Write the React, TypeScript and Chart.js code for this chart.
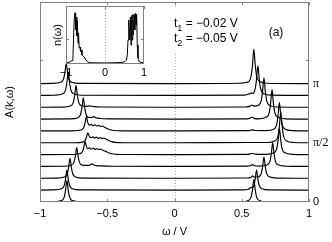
import React, { useEffect, useRef } from 'react';
import { Chart, registerables } from 'chart.js';
Chart.register(...registerables);

const SANS = '"Liberation Sans", Arial, Helvetica, sans-serif';
const SERIF = '"Liberation Serif", "Times New Roman", serif';

// axis ticks
const xTickValues = [-1, -0.5, 0, 0.5, 1];
const kTickValues = [0, 5, 10];
const kTickLabels = ['0', 'π/2', 'π'];
const frameYTicks = [12];
const yMax = 16.9;

// A(k, ω) curves, k = 0 ... π in 10 steps: [ω, A]
const curve0 = [[-1, 0.006], [-0.9, 0.022], [-0.84, 0.126], [-0.82, 0.414], [-0.81, 0.99], [-0.8, 1.8], [-0.79, 0.99], [-0.78, 0.414], [-0.76, 0.126], [-0.7, 0.022], [0, 0.004], [0.49, 0.023], [0.55, 0.133], [0.57, 0.437], [0.58, 1.045], [0.59, 1.9], [0.6, 1.045], [0.61, 0.437], [0.63, 0.133], [0.69, 0.023], [1, 0.006]];
const curve1 = [[-1, 0.006], [-0.9, 0.02], [-0.84, 0.119], [-0.82, 0.391], [-0.81, 0.935], [-0.8, 1.7], [-0.79, 0.935], [-0.78, 0.391], [-0.76, 0.119], [-0.7, 0.02], [0, 0.004], [0.51, 0.02], [0.55, 0.08], [0.57, 0.25], [0.578, 0.18], [0.59, 0.39], [0.6, 0.935], [0.61, 1.7], [0.62, 0.935], [0.63, 0.391], [0.65, 0.119], [0.71, 0.02], [1, 0.006]];
const curve2 = [[-1, 0.006], [-0.877, 0.02], [-0.817, 0.119], [-0.797, 0.391], [-0.787, 0.935], [-0.777, 1.7], [-0.767, 0.935], [-0.757, 0.391], [-0.737, 0.119], [-0.677, 0.02], [0, 0.004], [0.54, 0.03], [0.57, 0.1], [0.58, 0.21], [0.59, 0.11], [0.625, 0.126], [0.645, 0.414], [0.655, 0.99], [0.665, 1.8], [0.675, 0.99], [0.685, 0.414], [0.705, 0.126], [0.765, 0.022], [1, 0.006]];
const curve3 = [[-1, 0.006], [-0.827, 0.02], [-0.767, 0.112], [-0.747, 0.368], [-0.737, 0.88], [-0.727, 1.6], [-0.717, 0.88], [-0.707, 0.368], [-0.687, 0.112], [-0.64, 0.09], [-0.612, 0.22], [-0.595, 0.1], [-0.55, 0.05], [-0.45, 0.02], [0, 0.004], [0.54, 0.03], [0.57, 0.09], [0.58, 0.16], [0.595, 0.06], [0.63, 0.03], [0.69, 0.14], [0.71, 0.46], [0.72, 1.1], [0.73, 2.0], [0.74, 1.1], [0.75, 0.46], [0.77, 0.14], [0.83, 0.024], [1, 0.006]];
const curve4 = [[-1, 0.005], [-0.765, 0.013], [-0.705, 0.077], [-0.685, 0.25], [-0.675, 0.6], [-0.665, 1.1], [-0.655, 0.7], [-0.645, 0.5], [-0.632, 0.58], [-0.618, 0.46], [-0.604, 0.56], [-0.59, 0.44], [-0.576, 0.52], [-0.562, 0.42], [-0.548, 0.48], [-0.534, 0.38], [-0.515, 0.3], [-0.495, 0.18], [-0.47, 0.08], [-0.43, 0.03], [-0.35, 0.01], [0, 0.004], [0.55, 0.03], [0.575, 0.1], [0.6, 0.05], [0.68, 0.026], [0.74, 0.154], [0.76, 0.506], [0.77, 1.21], [0.78, 2.2], [0.79, 1.21], [0.8, 0.506], [0.82, 0.154], [0.88, 0.026], [1, 0.006]];
const curve5 = [[-1, 0.005], [-0.745, 0.01], [-0.685, 0.06], [-0.665, 0.196], [-0.655, 0.47], [-0.645, 0.85], [-0.635, 0.58], [-0.622, 0.44], [-0.608, 0.5], [-0.594, 0.4], [-0.58, 0.48], [-0.566, 0.38], [-0.552, 0.45], [-0.538, 0.36], [-0.524, 0.4], [-0.508, 0.3], [-0.49, 0.2], [-0.47, 0.1], [-0.44, 0.04], [-0.38, 0.01], [0, 0.004], [0.56, 0.03], [0.69, 0.031], [0.75, 0.182], [0.77, 0.598], [0.78, 1.43], [0.79, 2.6], [0.8, 1.43], [0.81, 0.598], [0.83, 0.182], [0.89, 0.031], [1, 0.006]];
const curve6 = [[-1, 0.005], [-0.755, 0.014], [-0.695, 0.084], [-0.675, 0.276], [-0.665, 0.66], [-0.655, 1.2], [-0.645, 0.72], [-0.633, 0.5], [-0.619, 0.56], [-0.605, 0.44], [-0.591, 0.52], [-0.577, 0.42], [-0.563, 0.48], [-0.549, 0.38], [-0.535, 0.42], [-0.518, 0.3], [-0.5, 0.2], [-0.478, 0.1], [-0.45, 0.04], [-0.39, 0.01], [0, 0.004], [0.56, 0.03], [0.575, 0.1], [0.6, 0.04], [0.68, 0.029], [0.74, 0.168], [0.76, 0.552], [0.77, 1.32], [0.78, 2.4], [0.79, 1.32], [0.8, 0.552], [0.82, 0.168], [0.88, 0.029], [1, 0.006]];
const curve7 = [[-1, 0.006], [-0.778, 0.022], [-0.718, 0.126], [-0.698, 0.414], [-0.688, 0.99], [-0.678, 1.8], [-0.668, 0.99], [-0.658, 0.414], [-0.638, 0.14], [-0.615, 0.15], [-0.6, 0.22], [-0.585, 0.12], [-0.55, 0.06], [-0.45, 0.02], [0, 0.004], [0.54, 0.03], [0.565, 0.1], [0.575, 0.18], [0.59, 0.07], [0.625, 0.03], [0.685, 0.175], [0.705, 0.575], [0.715, 1.375], [0.725, 2.5], [0.735, 1.375], [0.745, 0.575], [0.765, 0.175], [0.825, 0.03], [1, 0.006]];
const curve8 = [[-1, 0.006], [-0.832, 0.022], [-0.772, 0.13], [-0.752, 0.425], [-0.742, 1.02], [-0.732, 1.85], [-0.722, 1.02], [-0.712, 0.425], [-0.692, 0.13], [-0.66, 0.08], [-0.63, 0.12], [-0.6, 0.06], [-0.55, 0.03], [0, 0.004], [0.53, 0.03], [0.56, 0.1], [0.575, 0.2], [0.59, 0.1], [0.625, 0.175], [0.645, 0.575], [0.655, 1.375], [0.665, 2.5], [0.675, 1.375], [0.685, 0.575], [0.705, 0.175], [0.765, 0.03], [1, 0.006]];
const curve9 = [[-1, 0.006], [-0.89, 0.024], [-0.83, 0.14], [-0.81, 0.46], [-0.8, 1.1], [-0.79, 2.0], [-0.78, 1.1], [-0.77, 0.46], [-0.75, 0.14], [-0.69, 0.024], [0, 0.004], [0.52, 0.03], [0.555, 0.12], [0.57, 0.22], [0.582, 0.17], [0.6, 0.575], [0.61, 1.375], [0.62, 2.5], [0.63, 1.375], [0.64, 0.575], [0.66, 0.175], [0.72, 0.03], [1, 0.006]];
const curve10 = [[-1, 0.006], [-0.905, 0.02], [-0.845, 0.119], [-0.825, 0.391], [-0.815, 0.935], [-0.805, 1.7], [-0.795, 0.935], [-0.785, 0.391], [-0.765, 0.119], [-0.705, 0.02], [0, 0.004], [0.49, 0.035], [0.53, 0.1], [0.555, 0.2], [0.57, 0.667], [0.58, 1.6], [0.59, 2.9], [0.6, 1.6], [0.61, 0.667], [0.63, 0.2], [0.69, 0.035], [1, 0.006]];
const curves = [curve0, curve1, curve2, curve3, curve4, curve5, curve6, curve7, curve8, curve9, curve10];

// inset n(ω)
const insetOmega = [-1.0, -0.9, -0.846, -0.821, -0.803, -0.787, -0.769, -0.754, -0.738, -0.723, -0.708, -0.692, -0.679, -0.662, -0.641, -0.626, -0.615, -0.59, -0.538, -0.487, -0.436, -0.385, 0, 0.436, 0.513, 0.551, 0.572, 0.59, 0.608, 0.636, 0.651, 0.667, 0.682, 0.697, 0.713, 0.728, 0.749, 0.764, 0.782, 0.8, 0.81, 0.828, 0.846, 0.872, 0.923, 1.0];
const insetN = [0.05, 0.08, 0.14, 0.32, 1.15, 1.82, 2.03, 1.35, 1.86, 1.11, 1.71, 0.83, 1.23, 0.63, 0.67, 0.48, 0.56, 0.36, 0.28, 0.16, 0.08, 0.05, 0.04, 0.06, 0.10, 0.16, 0.36, 0.95, 1.74, 0.95, 1.86, 0.75, 1.92, 0.95, 1.96, 1.15, 1.98, 1.35, 2.01, 1.55, 1.98, 0.75, 0.24, 0.10, 0.06, 0.05];
const insetXTicks = [-1, 0, 1];
const insetYTicks = [1];
const insetYMax = 2.3;

const fmt = (v: number) => (v < 0 ? '\u2212' + String(-v) : String(v));
const FRAME = '#808080';

function zeroScalePadding(s: any) {
  s.paddingTop = 0; s.paddingBottom = 0; s.paddingLeft = 0; s.paddingRight = 0;
}

const mainDecor = {
  id: 'mainDecor',
  beforeDatasetsDraw(chart: any) {
    const { ctx, chartArea: a, scales } = chart;
    const px = Math.round(scales.x.getPixelForValue(0)) + 0.5;
    ctx.save();
    ctx.strokeStyle = '#a8a8a8';
    ctx.lineWidth = 1;
    ctx.setLineDash([1, 2]);
    ctx.beginPath();
    ctx.moveTo(px, a.bottom);
    ctx.lineTo(px, a.top);
    ctx.stroke();
    ctx.restore();
  },
  afterDatasetsDraw(chart: any) {
    const { ctx, chartArea: a, scales } = chart;
    const x = scales.x, y = scales.y;
    ctx.save();
    // text box
    ctx.fillStyle = '#fff';
    ctx.fillRect(168, 9, 76, 45);
    ctx.fillStyle = '#000';
    ctx.textBaseline = 'alphabetic';
    ctx.textAlign = 'left';
    const rows = [['1', ' = \u22120.02 V', 27], ['2', ' = \u22120.05 V', 41.5]];
    rows.forEach(([sub, rest, by]: any) => {
      let cx = 174;
      ctx.font = `12px ${SANS}`;
      ctx.fillText('t', cx, by);
      cx += ctx.measureText('t').width;
      ctx.font = `9px ${SANS}`;
      ctx.fillText(sub, cx, by + 4);
      cx += ctx.measureText(sub).width;
      ctx.font = `12px ${SANS}`;
      ctx.fillText(rest, cx, by);
    });
    ctx.textAlign = 'center';
    ctx.textBaseline = 'middle';
    ctx.font = `12px ${SANS}`;
    ctx.fillText('(a)', 276, 32.5);
    // frame
    ctx.strokeStyle = FRAME;
    ctx.lineWidth = 1;
    ctx.strokeRect(a.left + 0.5, a.top + 0.5, a.right - a.left - 1, a.bottom - a.top - 1);
    ctx.beginPath();
    xTickValues.forEach((v) => {
      const p = Math.round(x.getPixelForValue(v)) + 0.5;
      ctx.moveTo(p, a.top); ctx.lineTo(p, a.top + 3);
      ctx.moveTo(p, a.bottom); ctx.lineTo(p, a.bottom - 3);
    });
    frameYTicks.forEach((v) => {
      const p = Math.round(y.getPixelForValue(v)) + 0.5;
      ctx.moveTo(a.left, p); ctx.lineTo(a.left + 3, p);
      ctx.moveTo(a.right, p); ctx.lineTo(a.right - 3, p);
    });
    ctx.stroke();
    ctx.restore();
  },
};

const insetDecor = {
  id: 'insetDecor',
  beforeDatasetsDraw(chart: any) {
    const { ctx, chartArea: a, scales } = chart;
    ctx.save();
    ctx.fillStyle = '#fff';
    ctx.fillRect(a.left, a.top, a.right - a.left, a.bottom - a.top);
    const px = Math.round(scales.x.getPixelForValue(0)) + 0.5;
    ctx.strokeStyle = '#a8a8a8';
    ctx.lineWidth = 1;
    ctx.setLineDash([1, 2]);
    ctx.beginPath();
    ctx.moveTo(px, a.bottom);
    ctx.lineTo(px, a.top);
    ctx.stroke();
    ctx.restore();
  },
  afterDatasetsDraw(chart: any) {
    const { ctx, chartArea: a, scales } = chart;
    ctx.save();
    ctx.strokeStyle = FRAME;
    ctx.lineWidth = 1;
    ctx.strokeRect(a.left + 0.5, a.top + 0.5, a.right - a.left - 1, a.bottom - a.top - 1);
    ctx.beginPath();
    insetXTicks.forEach((v) => {
      const p = Math.round(scales.x.getPixelForValue(v)) + 0.5;
      ctx.moveTo(p, a.top); ctx.lineTo(p, a.top + 3);
    });
    insetYTicks.forEach((v) => {
      const p = Math.round(scales.y.getPixelForValue(v)) + 0.5;
      ctx.moveTo(a.left, p); ctx.lineTo(a.left + 3, p);
      ctx.moveTo(a.right, p); ctx.lineTo(a.right - 3, p);
    });
    ctx.stroke();
    ctx.restore();
  },
};

export default function App() {
  const mainRef = useRef<HTMLCanvasElement>(null);
  const insetRef = useRef<HTMLCanvasElement>(null);

  useEffect(() => {
    const font = { family: SANS, size: 11 };
    const main = new Chart(mainRef.current as HTMLCanvasElement, {
      type: 'line',
      data: {
        datasets: curves.map((c, k) => ({
          data: c.map(([w, a]) => ({ x: w, y: k + a })),
          borderColor: '#000',
          borderWidth: 1.15,
          pointRadius: 0,
          fill: false,
          cubicInterpolationMode: 'monotone' as const,
        })),
      },
      options: {
        animation: false,
        responsive: false,
        devicePixelRatio: 1,
        layout: { padding: { top: 2, left: 0, right: 0, bottom: 0 } },
        plugins: { legend: { display: false }, tooltip: { enabled: false } },
        scales: {
          x: {
            type: 'linear',
            position: 'bottom',
            min: -1,
            max: 1,
            grid: { display: false, drawTicks: false },
            border: { display: false },
            afterBuildTicks: (s: any) => { s.ticks = xTickValues.map((v) => ({ value: v })); },
            ticks: { font, color: '#000', padding: 5, autoSkip: false, maxRotation: 0, callback: (v: any) => fmt(Number(v)) },
            title: { display: true, text: 'ω / V', font, color: '#000', padding: { top: 0, bottom: 3 } },
            afterFit: (s: any) => { s.height = 40; zeroScalePadding(s); },
          },
          y: {
            type: 'linear',
            position: 'left',
            min: 0,
            max: yMax,
            grid: { display: false, drawTicks: false },
            border: { display: false },
            ticks: { display: false },
            title: { display: true, text: 'A(k,ω)', font, color: '#000', padding: { top: 3.4, bottom: 0 } },
            afterFit: (s: any) => { s.width = 40; zeroScalePadding(s); },
          },
          y2: {
            type: 'linear',
            position: 'right',
            min: 0,
            max: yMax,
            grid: { display: false, drawTicks: false },
            border: { display: false },
            afterBuildTicks: (s: any) => { s.ticks = kTickValues.map((v) => ({ value: v })); },
            ticks: {
              color: '#000',
              padding: 4,
              autoSkip: false,
              font: (ctx: any) => (ctx.tick && ctx.tick.value === 0 ? { family: SANS, size: 11 } : { family: SERIF, size: 12 }),
              callback: (_v: any, i: number) => kTickLabels[i],
            },
            afterFit: (s: any) => { s.width = 23; zeroScalePadding(s); },
          },
        },
      } as any,
      plugins: [mainDecor],
    });

    const inset = new Chart(insetRef.current as HTMLCanvasElement, {
      type: 'line',
      data: {
        datasets: [{
          data: insetOmega.map((w, i) => ({ x: w, y: insetN[i] })),
          borderColor: '#000',
          borderWidth: 1,
          pointRadius: 0,
          fill: false,
          tension: 0,
        }],
      },
      options: {
        animation: false,
        responsive: false,
        devicePixelRatio: 1,
        layout: { padding: { top: 6, right: 6, left: 0, bottom: 0 } },
        plugins: { legend: { display: false }, tooltip: { enabled: false } },
        scales: {
          x: {
            type: 'linear',
            min: -1,
            max: 1,
            grid: { display: false, drawTicks: false },
            border: { display: false },
            afterBuildTicks: (s: any) => { s.ticks = insetXTicks.map((v) => ({ value: v })); },
            ticks: { font, color: '#000', padding: 2, autoSkip: false, maxRotation: 0, callback: (v: any) => fmt(Number(v)) },
            afterFit: (s: any) => { s.height = 16; zeroScalePadding(s); },
          },
          y: {
            type: 'linear',
            min: 0,
            max: insetYMax,
            grid: { display: false, drawTicks: false },
            border: { display: false },
            ticks: { display: false },
            title: { display: true, text: 'n(ω)', font, color: '#000', padding: { top: 1, bottom: 0 } },
            afterFit: (s: any) => { s.width = 16; zeroScalePadding(s); },
          },
        },
      } as any,
      plugins: [insetDecor],
    });

    return () => { main.destroy(); inset.destroy(); };
  }, []);

  return (
    <div style={{ position: 'absolute', left: 0, top: 0, width: 332, height: 242, background: '#fff' }}>
      <canvas ref={mainRef} width={332} height={242} style={{ position: 'absolute', left: 0, top: 0 }} />
      <canvas ref={insetRef} width={100} height={80} style={{ position: 'absolute', left: 50, top: 0 }} />
    </div>
  );
}
